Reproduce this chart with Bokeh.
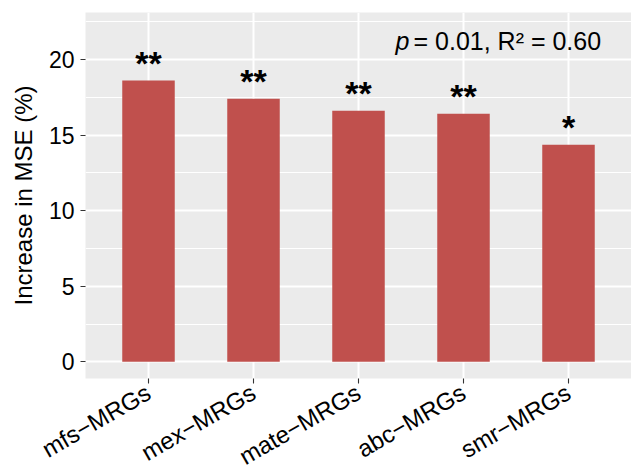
import math
from bokeh.plotting import figure
from bokeh.models import FactorRange, Range1d, FixedTicker, Label, ColumnDataSource
from bokeh.core.properties import value
from bokeh.embed import file_html
from bokeh.resources import INLINE

categories = ["mfs\u2212MRGs", "mex\u2212MRGs", "mate\u2212MRGs", "abc\u2212MRGs", "smr\u2212MRGs"]
increase_mse = [18.6, 17.4, 16.6, 16.4, 14.35]
significance = ["**", "**", "**", "**", "*"]
y_ticks = [0, 5, 10, 15, 20]
y_minor_ticks = [2.5, 7.5, 12.5, 17.5, 22.5]
annotation_p = "p"
annotation_rest = "= 0.01, R\u00b2 = 0.60"

FONT = "Liberation Sans"
BAR = "#C0504D"

src = ColumnDataSource(dict(cat=categories, val=increase_mse, sig=significance))

p = figure(frame_width=546, frame_height=366,
           x_range=FactorRange(factors=categories, range_padding=0.1, range_padding_units="absolute"),
           y_range=Range1d(-1.1, 23.1),
           output_backend="svg", toolbar_location=None,
           min_border_left=85, min_border_right=0, min_border_top=12, min_border_bottom=0)

p.outline_line_color = None
p.background_fill_color = "#EBEBEB"
p.border_fill_color = "white"

p.vbar(x="cat", top="val", width=0.5, source=src, fill_color=BAR, line_color=None)
p.text(x="cat", y="val", text="sig", source=src, text_align="center",
       text_baseline="alphabetic", text_font=value(FONT), text_font_size="34px",
       text_font_style="bold", text_color="black", y_offset=-18)

ticker = FixedTicker(ticks=y_ticks, minor_ticks=y_minor_ticks)
p.yaxis.ticker = ticker
p.ygrid.ticker = ticker

p.xgrid.grid_line_color = "white"
p.xgrid.grid_line_width = 2
p.ygrid.grid_line_color = "white"
p.ygrid.grid_line_width = 2
p.ygrid.minor_grid_line_color = "white"
p.ygrid.minor_grid_line_width = 1

for ax in (p.xaxis[0], p.yaxis[0]):
    ax.axis_line_color = None
    ax.major_tick_line_color = "#333333"
    ax.major_tick_line_width = 1.1
    ax.major_tick_out = 5
    ax.major_tick_in = 0
    ax.minor_tick_line_color = None
    ax.minor_tick_out = 0
    ax.minor_tick_in = 0
    ax.major_label_text_font = FONT
    ax.major_label_text_color = "black"

p.yaxis.major_label_text_font_size = "23px"
p.yaxis.major_label_standoff = 6
p.yaxis.axis_label = "Increase in MSE (%)"
p.yaxis.axis_label_text_font = FONT
p.yaxis.axis_label_text_font_size = "24px"
p.yaxis.axis_label_text_font_style = "normal"
p.yaxis.axis_label_text_color = "black"
p.yaxis.axis_label_standoff = 9

p.xaxis.major_label_text_font_size = "24px"
p.xaxis.major_label_orientation = math.pi / 6
p.xaxis.major_label_standoff = 7

p.add_layout(Label(x=310, y=338, x_units="screen", y_units="screen", text=annotation_p,
                   text_font=FONT, text_font_size="25px", text_font_style="italic",
                   text_color="black", text_align="left", text_baseline="alphabetic"))
p.add_layout(Label(x=328, y=338, x_units="screen", y_units="screen", text=annotation_rest,
                   text_font=FONT, text_font_size="25px",
                   text_color="black", text_align="left", text_baseline="alphabetic"))

open("out.html", "w").write(file_html(p, INLINE))
